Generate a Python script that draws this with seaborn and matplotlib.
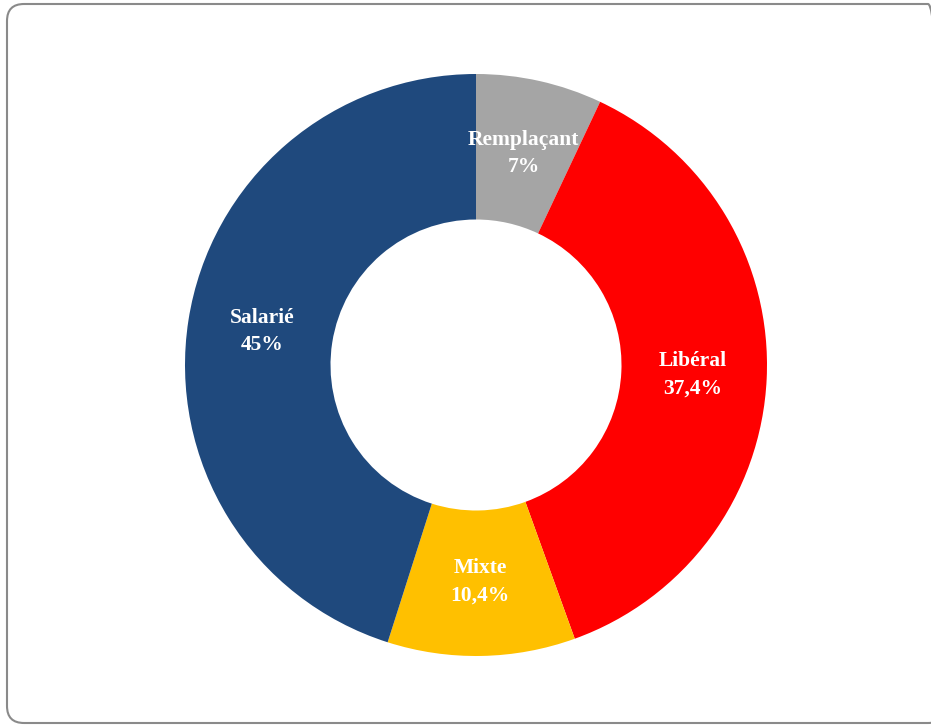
import numpy as np
import matplotlib
matplotlib.use("Agg")
import matplotlib.pyplot as plt
import seaborn as sns
from matplotlib.patches import FancyBboxPatch

categories = ["Remplaçant", "Libéral", "Mixte", "Salarié"]
values = [7, 37.4, 10.4, 45]
pct_labels = ["7%", "37,4%", "10,4%", "45%"]
colors = ["#A5A5A5", "#FF0000", "#FFC000", "#1F497D"]

sns.set_theme(style="white")
plt.rcParams['font.family'] = ['Liberation Serif', 'DejaVu Serif']

fig = plt.figure(figsize=(9.31, 7.25), dpi=100)

# rounded frame around the chart area
frame = FancyBboxPatch((0.07, 0.02), 9.38, 7.19,
                       boxstyle="round,pad=0,rounding_size=0.17",
                       transform=fig.dpi_scale_trans, fill=False,
                       edgecolor="#8a8a8a", linewidth=1.5, zorder=0)
fig.patches.append(frame)

ax = fig.add_axes([(476 - 291) / 931, 69 / 725, 582 / 931, 582 / 725])
labels = [f"{c}\n{p}" for c, p in zip(categories, pct_labels)]
wedges, texts = ax.pie(values, labels=labels, colors=sns.color_palette(colors),
                       startangle=90, counterclock=False, radius=1,
                       labeldistance=0.745,
                       wedgeprops=dict(width=0.5, edgecolor="none"))
for t in texts:
    t.set_ha("center")
    t.set_va("center")
    t.set_color("white")
    t.set_fontweight("bold")
    t.set_fontsize(15.5)
    t.set_linespacing(1.5)
ax.set_xlim(-1, 1)
ax.set_ylim(-1, 1)
ax.set_aspect("equal")
ax.axis("off")

fig.savefig("out.png", dpi=100)
